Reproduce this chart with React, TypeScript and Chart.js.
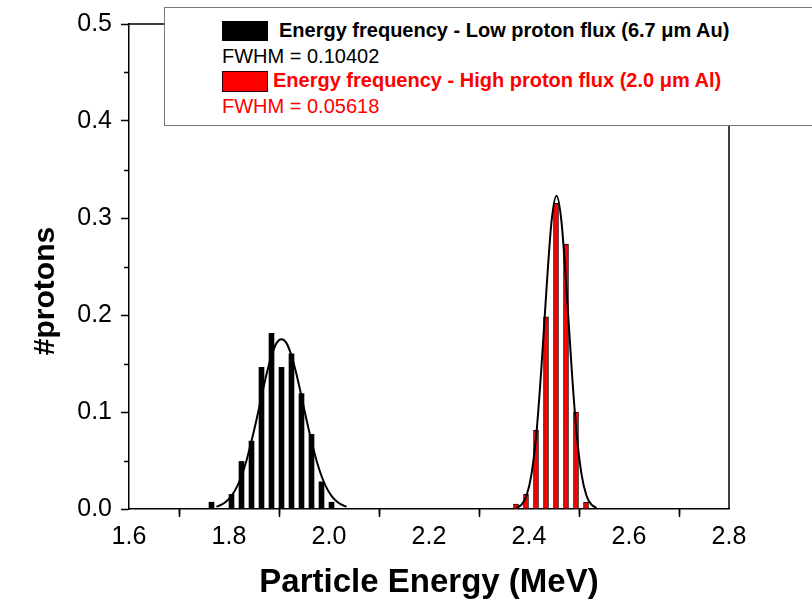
import React, { useEffect, useRef } from "react";
import { Chart, registerables } from "chart.js";

Chart.register(...registerables);

// ---- data ----
const blackBinCenters = [1.765, 1.805, 1.825, 1.845, 1.865, 1.885, 1.905, 1.925, 1.945, 1.965, 1.985, 2.005];
const blackCounts = [0.007, 0.015, 0.049, 0.07, 0.146, 0.181, 0.146, 0.16, 0.119, 0.077, 0.028, 0.007];

const redBinCenters = [2.374, 2.394, 2.414, 2.434, 2.454, 2.474, 2.494, 2.514];
const redCounts = [0.005, 0.015, 0.081, 0.198, 0.315, 0.273, 0.1, 0.007];

const blackFitX = [1.775, 1.785, 1.795, 1.805, 1.815, 1.825, 1.835, 1.845, 1.855, 1.865, 1.875, 1.885, 1.895, 1.905, 1.915, 1.925, 1.935, 1.945, 1.955, 1.965, 1.975, 1.985, 1.995, 2.005, 2.015, 2.025, 2.035];
const blackFitY = [0.0023, 0.0044, 0.0079, 0.0135, 0.022, 0.034, 0.05, 0.07, 0.092, 0.116, 0.139, 0.158, 0.171, 0.175, 0.171, 0.158, 0.139, 0.116, 0.092, 0.07, 0.05, 0.034, 0.022, 0.0135, 0.0079, 0.0044, 0.0023];

const redFitX = [2.375, 2.385, 2.395, 2.405, 2.415, 2.425, 2.435, 2.445, 2.455, 2.465, 2.475, 2.485, 2.495, 2.505, 2.515, 2.525, 2.535];
const redFitY = [0.0012, 0.0044, 0.0137, 0.036, 0.079, 0.147, 0.227, 0.296, 0.323, 0.296, 0.227, 0.147, 0.079, 0.036, 0.0137, 0.0044, 0.0012];

const xTickValues = [1.6, 1.8, 2.0, 2.2, 2.4, 2.6, 2.8];
const xMinorTicks = [1.7, 1.9, 2.1, 2.3, 2.5, 2.7];
const yTickValues = [0.0, 0.1, 0.2, 0.3, 0.4, 0.5];
const yMinorTicks = [0.05, 0.15, 0.25, 0.35, 0.45];

const xTitle = "Particle Energy (MeV)";
const yTitle = "#protons";
const legendLow = "Energy frequency - Low proton flux (6.7 \u03BCm Au)";
const legendLowFwhm = "FWHM = 0.10402";
const legendHigh = "Energy frequency - High proton flux (2.0 \u03BCm Al)";
const legendHighFwhm = "FWHM = 0.05618";

const FONT = "'Liberation Sans', Arial, Helvetica, sans-serif";
const RED = "#ff0000";

const framePlugin = {
  id: "frameAndMinor",
  afterDraw(chart: any) {
    const { ctx, chartArea: a, scales } = chart;
    const xs = scales.x;
    const ys = scales.y;
    ctx.save();
    ctx.strokeStyle = "#000";
    ctx.lineWidth = 1.5;
    ctx.beginPath();
    ctx.moveTo(a.left, a.top);
    ctx.lineTo(a.right, a.top);
    ctx.lineTo(a.right, a.bottom);
    ctx.stroke();
    ctx.beginPath();
    for (const v of xMinorTicks) {
      const px = Math.round(xs.getPixelForValue(v)) + 0.5;
      ctx.moveTo(px, a.bottom);
      ctx.lineTo(px, a.bottom + 5);
    }
    for (const v of yMinorTicks) {
      const py = Math.round(ys.getPixelForValue(v)) + 0.5;
      ctx.moveTo(a.left, py);
      ctx.lineTo(a.left - 5, py);
    }
    ctx.stroke();

    ctx.fillStyle = "#000";
    ctx.textAlign = "center";
    ctx.textBaseline = "alphabetic";
    ctx.font = `bold 33px ${FONT}`;
    ctx.fillText(xTitle, (a.left + a.right) / 2, a.bottom + 83);
    ctx.translate(a.left - 75, a.top + 267);
    ctx.rotate(-Math.PI / 2);
    ctx.font = `bold 30px ${FONT}`;
    ctx.fillText(yTitle, 0, 0);
    ctx.restore();
  },
};

export default function App() {
  const ref = useRef<HTMLCanvasElement | null>(null);

  useEffect(() => {
    if (!ref.current) return;
    const chart = new Chart(ref.current, {
      type: "bar",
      data: {
        datasets: [
          {
            type: "line",
            label: "fit low",
            data: blackFitX.map((x, i) => ({ x, y: blackFitY[i] })),
            borderColor: "#000",
            borderWidth: 2,
            pointRadius: 0,
            cubicInterpolationMode: "monotone",
            fill: false,
            order: 0,
          },
          {
            type: "line",
            label: "fit high",
            data: redFitX.map((x, i) => ({ x, y: redFitY[i] })),
            borderColor: "#000",
            borderWidth: 2,
            pointRadius: 0,
            cubicInterpolationMode: "monotone",
            fill: false,
            order: 0,
          },
          {
            type: "bar",
            label: legendLow,
            data: blackBinCenters.map((x, i) => ({ x, y: blackCounts[i] })),
            backgroundColor: "#000",
            borderColor: "#000",
            borderWidth: 0,
            barThickness: 5,
            grouped: false,
            order: 1,
          },
          {
            type: "bar",
            label: legendHigh,
            data: redBinCenters.map((x, i) => ({ x, y: redCounts[i] })),
            backgroundColor: RED,
            borderColor: "#1a0000",
            borderWidth: 1,
            barThickness: 5,
            grouped: false,
            order: 1,
          },
        ] as any,
      },
      options: {
        animation: false,
        responsive: false,
        layout: { padding: { left: 0, top: 20, right: 83, bottom: 0 } },
        plugins: { legend: { display: false }, tooltip: { enabled: false } },
        scales: {
          x: {
            type: "linear",
            min: 1.6,
            max: 2.8,
            offset: false,
            afterBuildTicks: (s: any) => {
              s.ticks = xTickValues.map((v) => ({ value: v }));
            },
            afterFit: (s: any) => {
              s.height = 96;
            },
            grid: {
              display: true,
              drawOnChartArea: false,
              drawTicks: true,
              tickLength: 8,
              tickColor: "#000",
              tickWidth: 1.5,
            },
            border: { display: true, color: "#000", width: 1.5 },
            ticks: {
              color: "#000",
              padding: 5,
              maxRotation: 0,
              autoSkip: false,
              font: { family: FONT, size: 25 },
              callback: (v: any) => Number(v).toFixed(1),
            },
          },
          y: {
            type: "linear",
            min: 0,
            max: 0.5,
            afterBuildTicks: (s: any) => {
              s.ticks = yTickValues.map((v) => ({ value: v }));
            },
            afterFit: (s: any) => {
              s.width = 129;
            },
            grid: {
              display: true,
              drawOnChartArea: false,
              drawTicks: true,
              tickLength: 8,
              tickColor: "#000",
              tickWidth: 1.5,
            },
            border: { display: true, color: "#000", width: 1.5 },
            ticks: {
              color: "#000",
              padding: 9,
              font: { family: FONT, size: 25 },
              callback: (v: any) => Number(v).toFixed(1),
            },
          },
        },
      } as any,
      plugins: [framePlugin],
    });
    return () => chart.destroy();
  }, []);

  const textBase: React.CSSProperties = {
    position: "absolute",
    fontFamily: FONT,
    fontSize: 20,
    lineHeight: "20px",
    whiteSpace: "nowrap",
  };

  return (
    <div
      style={{
        position: "fixed",
        left: 0,
        top: 0,
        width: 812,
        height: 605,
        overflow: "hidden",
        background: "#fff",
      }}
    >
      <canvas ref={ref} width={812} height={605} style={{ display: "block" }} />
      <div
        style={{
          position: "absolute",
          left: 164,
          top: 7,
          width: 700,
          height: 119,
          boxSizing: "border-box",
          border: "1px solid #777",
          background: "#fff",
        }}
      />
      <div style={{ position: "absolute", left: 222, top: 21, width: 46, height: 20, background: "#000" }} />
      <span style={{ ...textBase, left: 279, top: 20, fontWeight: "bold", color: "#000" }}>{legendLow}</span>
      <span style={{ ...textBase, left: 222, top: 46, color: "#000" }}>{legendLowFwhm}</span>
      <div
        style={{
          position: "absolute",
          left: 222,
          top: 71,
          width: 46,
          height: 21,
          boxSizing: "border-box",
          background: RED,
          border: "1px solid #300",
        }}
      />
      <span style={{ ...textBase, left: 273, top: 70, fontWeight: "bold", color: RED }}>{legendHigh}</span>
      <span style={{ ...textBase, left: 222, top: 96, color: RED }}>{legendHighFwhm}</span>
    </div>
  );
}
